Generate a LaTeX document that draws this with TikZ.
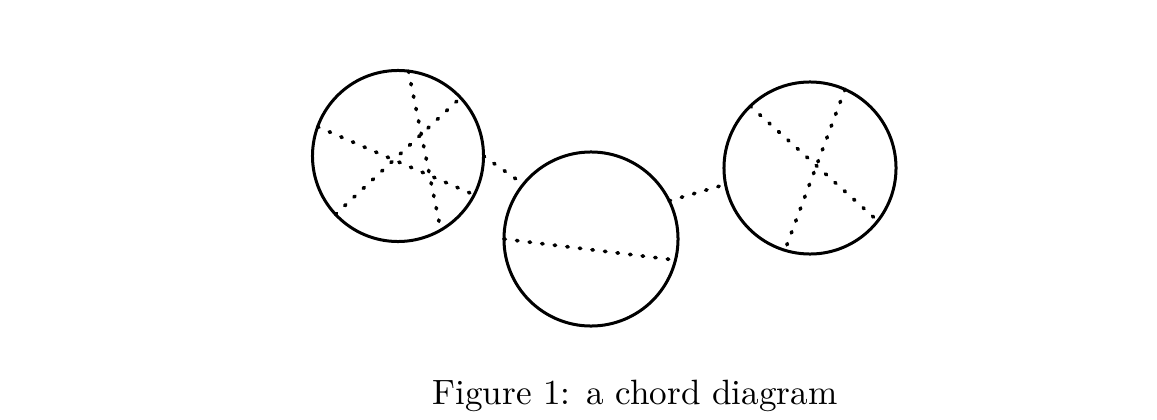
\documentclass[tikz,border=0pt]{standalone}
\font\capfont="[lmroman10-regular.otf]" at 25pt
\begin{document}
\begin{tikzpicture}[x=0.025cm,y=-0.025cm,
  ring/.style={circle,draw,line width=0.075cm,inner sep=0pt,outer sep=0pt},
  chord/.style={line width=2.6pt,line cap=round,dash pattern=on 1pt off 8pt},
  caption/.style={anchor=base,inner sep=0pt,font=\capfont}]
\useasboundingbox (0,0) rectangle (1157,420);
\node[ring,minimum size=4.275cm] (c1) at (398,156) {};
\node[ring,minimum size=4.35cm] (c2) at (591,239) {};
\node[ring,minimum size=4.3cm] (c3) at (810,168) {};
% chords of circle 1
\draw[chord] (c1.83) -- (c1.-60);
\draw[chord] (c1.160.7) -- (c1.-27.7);
\draw[chord] (c1.223.5) -- (c1.43);
% chord of circle 2
\draw[chord] (c2.180) -- (c2.-14.2);
% chords of circle 3
\draw[chord] (c3.134.7) -- (c3.-38.5);
\draw[chord] (c3.66) -- (c3.253);
% connectors between circles
\draw[chord] (c1.-0.7) -- (c2.141.4);
\draw[chord] (c2.26) -- (c3.191);
\node[caption] (cap) at (635,404) {Figure 1: a chord diagram};
\end{tikzpicture}
\end{document}
